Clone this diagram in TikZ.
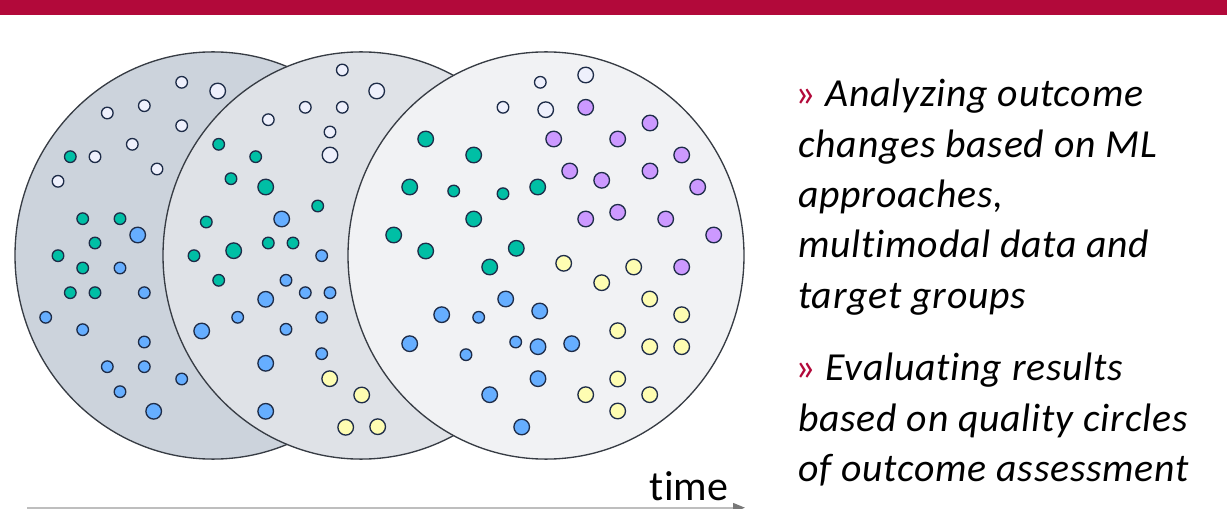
\documentclass[tikz,border=0pt]{standalone}
\usepackage{fontspec}
\setmainfont{Carlito}[Ligatures=NoCommon]
\newfontfamily\bulletfont{Carlito}[LetterSpace=2.0, Ligatures=NoCommon]
\usetikzlibrary{arrows.meta}

\definecolor{banner}{RGB}{178,9,58}
\definecolor{discA}{RGB}{204,211,220}
\definecolor{discB}{RGB}{223,226,231}
\definecolor{discC}{RGB}{241,242,244}
\definecolor{rimgray}{RGB}{55,60,68}
\definecolor{dotrim}{RGB}{30,44,72}
\definecolor{dwhite}{RGB}{238,240,252}
\definecolor{dteal}{RGB}{0,191,165}
\definecolor{dblue}{RGB}{102,174,255}
\definecolor{dyellow}{RGB}{254,253,178}
\definecolor{dpurple}{RGB}{204,153,255}
\definecolor{axisgray}{RGB}{190,190,190}
\definecolor{tipgray}{RGB}{120,120,120}

\tikzset{
  disc/.style={draw=rimgray, line width=1pt},
  spot/.style={draw=dotrim, line width=1pt},
  bullettext/.style={anchor=base west, inner sep=0pt, font=\bulletfont\fontsize{29.8pt}{37.7pt}\selectfont\itshape},
  timelabel/.style={anchor=base, inner sep=0pt, font=\fontsize{31.5pt}{37pt}\selectfont},
}

% dot radii (in pt)
\newcommand{\rsmall}{4.35pt}
\newcommand{\rlarge}{5.85pt}
% \dotset{colour}{radius}{list of x/y}
\newcommand{\dotset}[3]{%
  \foreach \px/\py in {#3} {\draw[spot, fill=#1] (\px,\py) circle[radius=#2];}%
}

\begin{document}
\begin{tikzpicture}[x=0.75pt, y=-0.75pt]
\useasboundingbox (0,0) rectangle (1227,509);

% header band
\fill[banner] (0,0) rectangle (1227,15.5);

% ---- first disc ----
\draw[disc, fill=discA] (213,255.5) ellipse[x radius=148.5pt, y radius=152.7pt];
\dotset{dwhite}{\rsmall}{181.7/82.3,144.3/105.7,107.3/113,181.7/125.7,132.3/144.3,95/156.7,157/169,58/181.3}
\dotset{dwhite}{\rlarge}{217.7/91}
\dotset{dteal}{\rsmall}{70.3/156.7,82.7/218.7,120/218.7,95/243,58/255.7,82.7/268,70.3/292.7,95/292.7}
\dotset{dblue}{\rsmall}{120/268,144.3/292.7,45.7/317.3,82.7/329.7,144.3/342,107.3/366.7,144.3/366.7,181.7/379,120/391.7}
\dotset{dblue}{\rlarge}{137.7/235,153.7/411.3}

% ---- second disc ----
\draw[disc, fill=discB] (361,255.5) ellipse[x radius=148.5pt, y radius=152.7pt];
\dotset{dwhite}{\rsmall}{342.3/70,305.3/107.3,342.3/107.3,268.3/119.7,330/132}
\dotset{dwhite}{\rlarge}{376.7/91,330/155}
\dotset{dteal}{\rsmall}{218.7/144.3,255.7/156.7,231/178.7,317.7/206,206.3/222,194/255.7,268.3/243,293/243,218.7/280.3}
\dotset{dteal}{\rlarge}{265.7/187,233.7/250.7}
\dotset{dblue}{\rsmall}{321.7/255.7,286/280.3,305.3/292.7,330/292.7,237.7/317.3,321.7/317.3,286/329.3,321.7/353.7}
\dotset{dblue}{\rlarge}{281.7/219,265.7/299.3,201.7/331,265.7/363.3,265.7/411.3}
\dotset{dyellow}{\rlarge}{329.7/378.7,361.7/395,345.7/427.3,377.7/426.7}

% ---- third disc ----
\draw[disc, fill=discC] (546,255.5) ellipse[x radius=148.5pt, y radius=152.7pt];
\dotset{dwhite}{\rsmall}{540.3/82.3,503/107.3}
\dotset{dwhite}{\rlarge}{585.7/75,545.7/109.7}
\dotset{dpurple}{\rlarge}{585.7/107.3,650/123,553.7/139,617.7/139,681.7/155,569.7/171,601.7/180.3,650/171,697.7/187,585.7/219,617.7/212.3,665.7/219,713.7/235,681.7/267}
\dotset{dteal}{\rlarge}{425.7/139,473.7/155,409.7/187,537.7/187,473.7/219,393.7/235,425.7/251,516.3/248.3,489.7/267}
\dotset{dteal}{\rsmall}{453.7/191,503/193.7}
\dotset{dyellow}{\rlarge}{563.7/263.3,633.7/267,601.7/282.7,649.7/299,681.7/314.7,617.7/330.7,649.7/346.7,681.7/346.7,585.7/394.7,617.7/379,649.7/394.7,617.7/411}
\dotset{dblue}{\rlarge}{505.7/299,441.7/314.7,539.7/311,409.7/343.7,538/346.7,571.7/343.7,538/378.7,489.7/394.7,521.7/427}
\dotset{dblue}{\rsmall}{478.7/317.3,515.7/342,466/354.7}

% ---- time axis ----
\coordinate (tstart) at (27,507.7);
\coordinate (tend) at (745,507.7);
\draw[axisgray, line width=1.2pt, -{Triangle[length=9pt, width=7pt, color=tipgray]}] (tstart) -- (tend);
\node[timelabel] (timelbl) at (689,500) {time};

% ---- bullet text ----
\node[bullettext] (a1) at (795,106.7) {{\upshape\color{banner}»} Analyzing outcome};
\node[bullettext] (a2) at (798,157.1) {changes based on ML};
\node[bullettext] (a3) at (798,207.5) {approaches,};
\node[bullettext] (a4) at (798,257.9) {multimodal data and};
\node[bullettext] (a5) at (798,308.3) {target groups};
\node[bullettext] (b1) at (795,380.7) {{\upshape\color{banner}»} Evaluating results};
\node[bullettext] (b2) at (798,431.1) {based on quality circles};
\node[bullettext] (b3) at (798,481.5) {of outcome assessment};
\end{tikzpicture}
\end{document}
